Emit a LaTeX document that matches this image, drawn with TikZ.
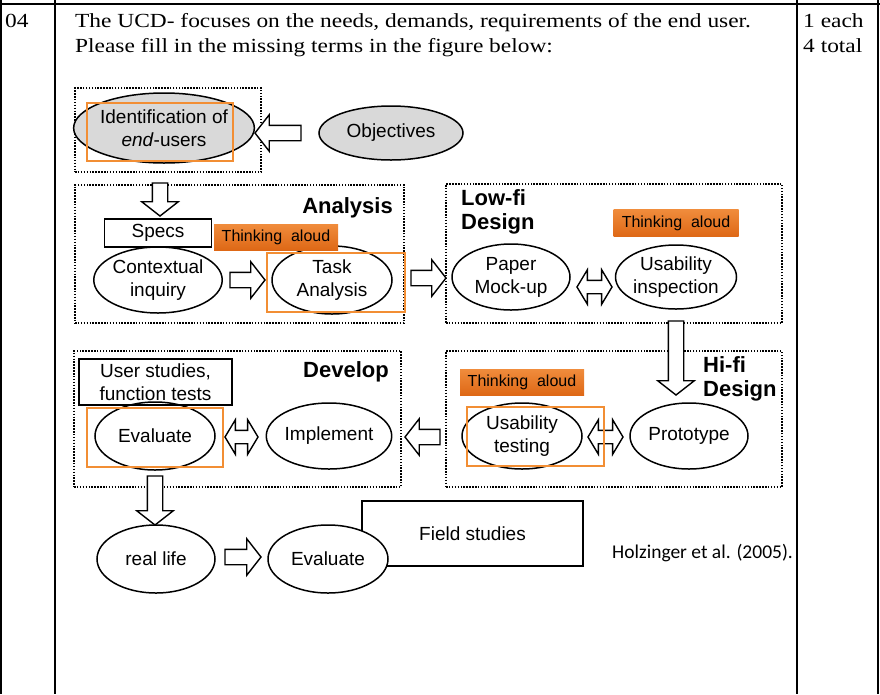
\documentclass[tikz,border=0pt]{standalone}
\usepackage{fontspec}
\setmainfont{Liberation Serif}
\setsansfont{Liberation Sans}
\newfontfamily\headfont{Liberation Serif}[FakeStretch=1.17]
\newfontfamily\citefont{Carlito}
\usetikzlibrary{shapes.geometric, shapes.arrows}

\definecolor{ucdorange}{RGB}{242,142,52}
\definecolor{tagtop}{RGB}{240,140,60}
\definecolor{tagbottom}{RGB}{222,104,22}
\definecolor{ucdgray}{RGB}{217,217,217}

\tikzset{
  phasebox/.style={draw, line width=1.5pt, dash pattern=on 1.5pt off 1.4pt, inner sep=0pt},
  stage/.style={ellipse, draw, line width=1.5pt, fill=white, inner sep=0pt, align=center,
    font=\sffamily\fontsize{19}{23}\selectfont},
  notebox/.style={rectangle, draw, line width=1.5pt, inner sep=0pt, align=center,
    font=\sffamily\fontsize{19}{23}\selectfont},
  tagbox/.style={rectangle, inner sep=0pt, top color=tagtop, bottom color=tagbottom,
    font=\sffamily\fontsize{16}{18}\selectfont},
  hilite/.style={rectangle, draw=ucdorange, line width=2.6pt, inner sep=0pt},
  phase/.style={inner sep=0pt, align=left, font=\sffamily\bfseries\fontsize{22}{24}\selectfont},
  question/.style={anchor=base west, inner sep=0pt, font=\headfont\fontsize{20}{25}\selectfont},
  blockarrow/.style={single arrow, draw, line width=1.4pt, fill=white, inner xsep=0pt,
    inner ysep=7pt, single arrow head extend=10.5pt, single arrow tip angle=104, minimum height=#1},
  twoarrow/.style={double arrow, draw, line width=1.4pt, fill=white, inner xsep=0pt,
    inner ysep=6pt, double arrow head extend=10.5pt, double arrow tip angle=118, minimum height=#1},
}

\begin{document}
\begin{tikzpicture}[x=1pt, y=-1pt]
\useasboundingbox (0,0) rectangle (880,694);

% table rules
\draw[line width=2.2pt] (0,4) -- (880,4);
\foreach \xr in {1,55,797,878}
  \draw[line width=2.2pt] (\xr,0) -- (\xr,694);

% question row
\node[question] (qno) at (5,27) {04};
\node[question] (qline1) at (75,27)
  {The UCD- focuses on the needs, demands, requirements of the end user.};
\node[question] (qline2) at (75,52) {Please fill in the missing terms in the figure below:};
\node[question] (mark1) at (803,27) {1 each};
\node[question] (mark2) at (803,52) {4 total};

% dotted phase frames
\node[phasebox, minimum width=186, minimum height=84] (idbox) at (168,130) {};
\node[phasebox, minimum width=329, minimum height=138] (anbox) at (239.5,254) {};
\node[phasebox, minimum width=336, minimum height=139] (lowbox) at (614,253.5) {};
\node[phasebox, minimum width=327, minimum height=136] (devbox) at (237.5,419) {};
\node[phasebox, minimum width=336, minimum height=136] (hibox) at (614,419) {};

\node[phase, anchor=east] (analysis) at (393,208) {Analysis};
\node[phase, anchor=west] (lowfi) at (461,212) {Low-fi\\Design};
\node[phase, anchor=east] (develop) at (389,372) {Develop};
\node[phase, anchor=west] (hifi) at (703,379) {Hi-fi\\Design};

\node[notebox, minimum width=221, minimum height=65] (field) at (472.5,533.5) {Field studies};

% ellipses
\node[stage, fill=ucdgray, minimum width=176, minimum height=70] (ident) at (164,128)
  {Identification of\\\textit{end}-users};
\node[stage, fill=ucdgray, minimum width=144, minimum height=54] (obj) at (391,133) {Objectives};
\node[stage, minimum width=120, minimum height=66] (ctx) at (158,280) {Contextual\\inquiry};
\node[stage, minimum width=120, minimum height=68] (task) at (332,280) {Task\\Analysis};
\node[stage, minimum width=118, minimum height=66] (paper) at (511,277) {Paper\\Mock-up};
\node[stage, minimum width=118, minimum height=64] (uinsp) at (676,277) {Usability\\inspection};
\node[stage, minimum width=120, minimum height=66] (utest) at (522,436) {Usability\\testing};
\node[stage, minimum width=118, minimum height=66] (proto) at (689,436) {Prototype};
\node[stage, minimum width=120, minimum height=68] (evaldev) at (155,436) {Evaluate};
\node[stage, minimum width=118, minimum height=66] (impl) at (329,436) {Implement};
\node[stage, minimum width=118, minimum height=68] (life) at (156,559) {real life};
\node[stage, minimum width=120, minimum height=68] (evallife) at (328,559) {Evaluate};

\node[notebox, minimum width=107, minimum height=28] (specs) at (158,233) {Specs};
\node[notebox, minimum width=153, minimum height=46] (userst) at (155.5,382)
  {User studies,\\function tests};

% block arrows
\node[blockarrow=46, rotate=180] (aobj) at (281,133) {};
\node[blockarrow=33, rotate=-90] (aid) at (160,196.5) {};
\node[blockarrow=35] (actx) at (244.5,280) {};
\node[blockarrow=35] (atask) at (425.5,278) {};
\node[twoarrow=35] (dlow) at (594.5,287) {};
\node[blockarrow=74, rotate=-90] (ahi) at (676,355) {};
\node[twoarrow=35] (dhi) at (605.5,437) {};
\node[blockarrow=35, rotate=180] (adev) at (425.5,437) {};
\node[twoarrow=33] (ddev) at (241.5,437) {};
\node[blockarrow=49, rotate=-90] (alife) at (155,497.5) {};
\node[blockarrow=36] (areal) at (240,557) {};

% thinking aloud tags
\node[tagbox, minimum width=124, minimum height=26] (think1) at (276,237) {Thinking\ \ aloud};
\node[tagbox, minimum width=125, minimum height=27] (think2) at (676,223) {Thinking\ \ aloud};
\node[tagbox, minimum width=124, minimum height=26] (think3) at (522,382) {Thinking\ \ aloud};

% orange highlights
\node[hilite, minimum width=146, minimum height=58] (hlident) at (160,132) {};
\node[hilite, minimum width=138, minimum height=59] (hltask) at (336,282.5) {};
\node[hilite, minimum width=137, minimum height=59] (hltest) at (535.5,436.5) {};
\node[hilite, minimum width=136, minimum height=59] (hleval) at (155,437.5) {};

\node[anchor=base west, inner sep=0pt, font=\citefont\fontsize{19.5}{22}\selectfont] (cite) at (612,558)
  {Holzinger et al. (2005).};
\end{tikzpicture}
\end{document}
